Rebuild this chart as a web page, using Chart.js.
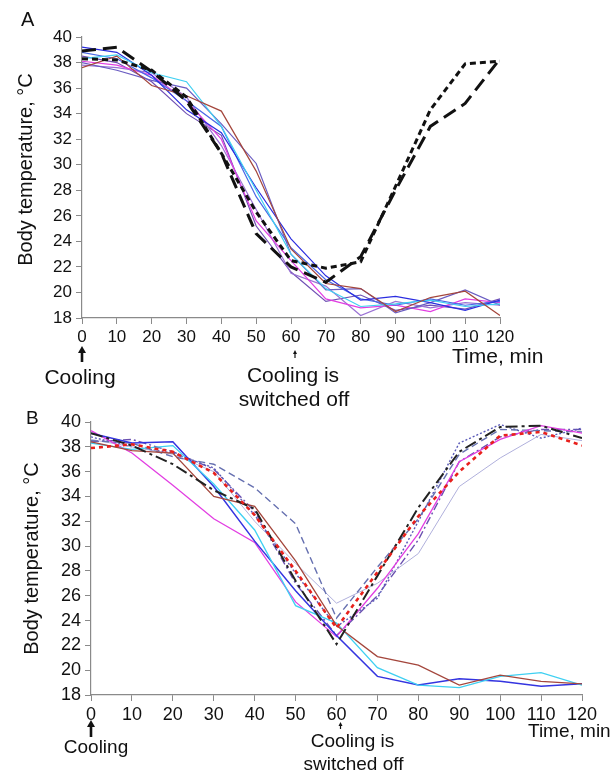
<!DOCTYPE html>
<html>
<head>
<meta charset="utf-8">
<script src="https://cdn.jsdelivr.net/npm/chart.js@4.4.1/dist/chart.umd.min.js"></script>
<style>
  html, body { margin: 0; padding: 0; background: #fff; }
  body { width: 616px; height: 779px; position: relative; overflow: hidden; }
  .panel { position: absolute; left: 0; width: 616px; }
  #panel-a { top: 0; height: 412px; }
  #panel-b { top: 390px; height: 389px; }
</style>
</head>
<body>
<div class="panel" id="panel-a"><canvas id="chart-a"></canvas></div>
<div class="panel" id="panel-b"><canvas id="chart-b"></canvas></div>
<script>
// time after start of cooling, min
const TIMES = [0, 10, 20, 30, 40, 50, 60, 70, 80, 90, 100, 110, 120];
const TEMP_MIN = 18;
const TEMP_MAX = 40;
const TEMP_STEP = 2;
const TIME_STEP = 10;

// panel A: cooling kept on (thin lines), cooling switched off at 60 min (black dashed)
const A_BROWN   = [37.6, 38.5, 36.2, 35.4, 34.2, 29.5, 23.4, 20.7, 20.3, 18.5, 19.6, 20.1, 18.2];
const A_CYAN    = [38.3, 38.6, 37.2, 36.5, 33.0, 28.0, 23.0, 20.3, 18.9, 19.1, 19.4, 18.9, 19.1];
const A_BLUE    = [39.2, 38.8, 37.0, 34.3, 32.5, 28.2, 24.2, 21.3, 19.4, 19.7, 19.2, 18.6, 19.4];
const A_ROYAL   = [38.8, 38.3, 36.8, 35.0, 33.0, 27.5, 23.5, 21.0, 19.5, 19.0, 19.5, 19.0, 19.3];
const A_SLATE   = [38.0, 37.4, 36.6, 36.0, 33.2, 30.1, 23.0, 20.2, 20.3, 18.4, 19.2, 20.2, 19.0];
const A_MAGENTA = [38.1, 37.8, 37.0, 35.0, 32.0, 25.6, 22.5, 19.5, 18.8, 19.0, 18.5, 19.5, 19.2];
const A_VIOLET  = [37.8, 37.6, 37.2, 35.3, 31.5, 26.5, 21.5, 20.5, 18.2, 19.3, 18.8, 19.2, 19.0];
const A_PURPLE  = [38.5, 38.0, 36.5, 34.0, 32.3, 25.2, 21.6, 19.3, 19.8, 18.6, 19.0, 18.7, 19.5];
const A_SHORT_DASH = [38.3, 38.2, 37.4, 35.3, 30.9, 26.3, 22.5, 21.9, 22.4, 28.3, 34.3, 37.9, 38.1];
const A_LONG_DASH  = [38.9, 39.2, 37.3, 35.0, 30.9, 24.6, 22.0, 20.8, 22.8, 28.0, 33.0, 34.8, 38.3];

// panel B
const B_BROWN    = [38.4, 37.7, 37.5, 34.0, 33.2, 28.8, 23.6, 21.1, 20.4, 18.8, 19.6, 19.1, 18.9];
const B_CYAN     = [38.3, 37.8, 38.1, 35.0, 31.3, 25.2, 23.8, 20.2, 18.8, 18.6, 19.5, 19.8, 18.8];
const B_BLUE     = [39.1, 38.3, 38.4, 34.8, 30.4, 26.4, 22.8, 19.5, 18.8, 19.3, 19.1, 18.7, 18.9];
const B_MAGENTA  = [39.3, 37.5, 34.9, 32.2, 30.3, 25.5, 22.7, 26.6, 31.0, 36.8, 38.6, 39.7, 39.1];
const B_RED      = [37.9, 38.2, 37.6, 35.9, 32.5, 28.0, 23.4, 27.9, 32.4, 36.0, 38.9, 39.2, 38.1];
const B_BLACK    = [39.1, 38.1, 36.6, 34.5, 33.0, 27.2, 22.1, 27.6, 33.1, 37.6, 39.6, 39.7, 38.7];
const B_SLATE    = [38.5, 38.3, 37.2, 36.6, 34.7, 31.8, 24.2, 28.3, 32.2, 37.4, 39.4, 39.3, 39.2];
const B_LAVENDER = [38.6, 38.0, 37.4, 36.0, 32.0, 28.6, 25.4, 27.0, 29.4, 34.8, 37.1, 39.0, 38.5];
const B_DOTTED   = [38.8, 38.0, 37.5, 36.3, 32.5, 27.8, 23.5, 25.8, 32.0, 38.3, 39.8, 38.7, 39.5];
const B_PURPLE   = [38.4, 38.6, 37.6, 36.2, 32.8, 27.0, 22.8, 26.0, 30.5, 36.8, 38.8, 39.4, 39.4];

const FONT = '"Liberation Sans", Arial, sans-serif';
const AXIS_GREY = "#8a8a8a";

Chart.defaults.font.family = FONT;
Chart.defaults.color = "#111";

function points(values) {
  return values.map((v, i) => ({ x: TIMES[i], y: v }));
}

function line(values, color, width, dash) {
  return {
    data: points(values),
    borderColor: color,
    borderWidth: width,
    borderDash: dash || [],
    pointRadius: 0,
    tension: 0,
    fill: false,
  };
}

function drawArrow(ctx, x, top, bottom, headW, headH, shaft) {
  ctx.beginPath();
  ctx.moveTo(x, top);
  ctx.lineTo(x - headW / 2, top + headH);
  ctx.lineTo(x + headW / 2, top + headH);
  ctx.closePath();
  ctx.fill();
  ctx.lineWidth = shaft;
  ctx.beginPath();
  ctx.moveTo(x, top + headH - 1);
  ctx.lineTo(x, bottom);
  ctx.stroke();
}

// panel letter, y title, arrows and notes under the time axis
const notesPlugin = {
  id: "notes",
  afterDraw(chart, args, o) {
    const { ctx, chartArea, scales } = chart;
    const x0 = scales.x.getPixelForValue(0);
    const x60 = scales.x.getPixelForValue(60);
    ctx.save();
    ctx.fillStyle = "#111";
    ctx.strokeStyle = "#111";
    ctx.textBaseline = "middle";

    ctx.font = `${o.letterSize}px ${FONT}`;
    ctx.textAlign = "left";
    ctx.fillText(o.letter, o.letterX, o.letterY);

    ctx.save();
    ctx.translate(o.titleX, (chartArea.top + chartArea.bottom) / 2 + o.titleShift);
    ctx.rotate(-Math.PI / 2);
    ctx.textAlign = "center";
    ctx.font = `${o.titleSize}px ${FONT}`;
    ctx.fillText("Body temperature, \u00B0C", 0, 0);
    ctx.restore();

    drawArrow(ctx, x0, o.bigArrow[0], o.bigArrow[1], 8, 7, 2.6);
    drawArrow(ctx, x60 + o.smallArrowDx, o.smallArrow[0], o.smallArrow[1], 4, 4, 1.2);

    ctx.font = `${o.noteSize}px ${FONT}`;
    ctx.textAlign = "center";
    ctx.fillText("Cooling", x0 + o.coolDx, o.coolY);
    ctx.fillText("Cooling is", x60 + o.offDx, o.offY);
    ctx.fillText("switched off", x60 + o.offDx + 1, o.offY + o.offGap);
    ctx.textAlign = "left";
    ctx.fillText("Time, min", o.timeX, o.timeY);
    ctx.restore();
  },
};

function makeChart(id, datasets, box, notes) {
  return new Chart(document.getElementById(id), {
    type: "line",
    data: { datasets },
    plugins: [notesPlugin],
    options: {
      responsive: true,
      maintainAspectRatio: false,
      animation: false,
      layout: { padding: { left: 0, top: box.top, right: box.right, bottom: 0 } },
      plugins: { legend: { display: false }, tooltip: { enabled: false }, notes },
      scales: {
        x: {
          type: "linear",
          min: 0,
          max: 120,
          afterFit: (s) => { s.height = box.xHeight; },
          ticks: { stepSize: TIME_STEP, font: { size: box.tickSize }, padding: 3, color: "#111" },
          grid: { drawOnChartArea: false, drawTicks: true, tickLength: 6, color: AXIS_GREY },
          border: { display: true, color: AXIS_GREY, width: 1.2 },
        },
        y: {
          min: TEMP_MIN,
          max: TEMP_MAX,
          afterFit: (s) => { s.width = box.yWidth; },
          ticks: { stepSize: TEMP_STEP, font: { size: box.tickSize }, padding: 4, color: "#111" },
          grid: { drawOnChartArea: false, drawTicks: true, tickLength: 6, color: AXIS_GREY },
          border: { display: true, color: AXIS_GREY, width: 1.2 },
        },
      },
    },
  });
}

makeChart(
  "chart-a",
  [
    line(A_SHORT_DASH, "#111", 3, [6, 4]),
    line(A_LONG_DASH, "#111", 3, [14, 7]),
    line(A_BROWN, "#a4463c", 1.2),
    line(A_CYAN, "#3fd0f2", 1.2),
    line(A_BLUE, "#2b2de0", 1.2),
    line(A_ROYAL, "#4a68e6", 1.2),
    line(A_SLATE, "#6a5cc2", 1.2),
    line(A_MAGENTA, "#e23ee2", 1.2),
    line(A_VIOLET, "#9a72d4", 1.2),
    line(A_PURPLE, "#7050b4", 1.2),
  ],
  { top: 37, right: 116, yWidth: 82, xHeight: 94, tickSize: 17 },
  {
    letter: "A", letterSize: 20, letterX: 21, letterY: 20,
    titleX: 26, titleShift: -8, titleSize: 20,
    bigArrow: [346, 362], smallArrow: [350, 358], smallArrowDx: 4,
    noteSize: 21, coolDx: -2, coolY: 378,
    offDx: 2, offY: 376, offGap: 24,
    timeX: 452, timeY: 357,
  }
);

makeChart(
  "chart-b",
  [
    line(B_RED, "#e8201c", 2.6, [4, 4]),
    line(B_BLACK, "#222", 2, [12, 4, 3, 4]),
    line(B_BROWN, "#a4463c", 1.3),
    line(B_CYAN, "#3fd0f2", 1.3),
    line(B_BLUE, "#3434e0", 1.5),
    line(B_MAGENTA, "#e23ee2", 1.3),
    line(B_SLATE, "#6670b0", 1.4, [7, 4]),
    line(B_LAVENDER, "#b0b0dc", 1),
    line(B_DOTTED, "#5a5ab8", 1.4, [2, 2]),
    line(B_PURPLE, "#6a50b0", 1.4, [8, 3, 2, 3]),
  ],
  { top: 32, right: 34, yWidth: 91, xHeight: 84, tickSize: 18 },
  {
    letter: "B", letterSize: 19, letterX: 26, letterY: 29,
    titleX: 32, titleShift: 0, titleSize: 20,
    bigArrow: [330, 347], smallArrow: [332, 339], smallArrowDx: 4,
    noteSize: 19, coolDx: 5, coolY: 358,
    offDx: 16, offY: 352, offGap: 23,
    timeX: 528, timeY: 342,
  }
);
</script>
</body>
</html>
